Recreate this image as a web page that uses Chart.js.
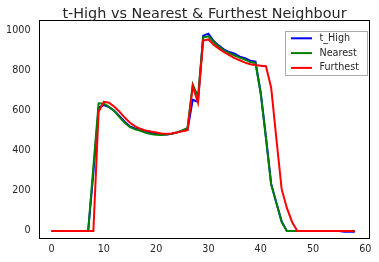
<!DOCTYPE html>
<html>
<head>
<meta charset="utf-8">
<script src="https://cdn.jsdelivr.net/npm/chart.js@4/dist/chart.umd.min.js"></script>
<style>
  html, body { margin: 0; padding: 0; background: #fff; }
  #wrap { width: 379px; height: 262px; }
</style>
</head>
<body>
<div id="wrap"><canvas id="neighbourChart"></canvas></div>
<script>
const chartTitle = 't-High vs Nearest & Furthest Neighbour'

const steps = [0, 1, 2, 3, 4, 5, 6, 7, 8, 9, 10, 11, 12, 13, 14, 15, 16, 17, 18, 19,
    20, 21, 22, 23, 24, 25, 26, 27, 28, 29, 30, 31, 32, 33, 34, 35, 36, 37, 38, 39,
    40, 41, 42, 43, 44, 45, 46, 47, 48, 49, 50, 51, 52, 53, 54, 55, 56, 57, 58]

const tHigh = [0, 0, 0, 0, 0, 0, 0, 0, 290, 615, 628, 618, 600, 573, 545, 522, 512, 503, 495, 490,
    486, 482, 482, 485, 492, 500, 505, 655, 645, 975, 985, 948, 925, 905, 893, 885, 870, 862, 850, 845,
    690, 470, 235, 140, 48, 0, 0, 0, 0, 0, 0, 0, 0, 0, 0, 0, -4, -4, -4]

const nearest = [0, 0, 0, 0, 0, 0, 0, 0, 320, 637, 635, 620, 598, 568, 540, 518, 508, 500, 490, 484,
    480, 479, 481, 485, 492, 502, 515, 732, 670, 965, 972, 943, 920, 900, 888, 876, 865, 855, 843, 838,
    685, 462, 232, 140, 45, 0, 0, 0, 0, 0, 0, 0, 0, 0, 0, 0, 0, 0, 0]

const furthest = [0, 0, 0, 0, 0, 0, 0, 0, 0, 595, 645, 640, 620, 595, 566, 540, 522, 510, 501, 496,
    492, 487, 485, 487, 492, 498, 503, 722, 640, 950, 956, 930, 910, 893, 878, 863, 852, 840, 832, 828,
    825, 822, 715, 460, 210, 115, 45, 0, 0, 0, 0, 0, 0, 0, 0, 0, 0, 0, 0]

const xTicks = [0, 10, 20, 30, 40, 50, 60]
const yTicks = [0, 200, 400, 600, 800, 1000]

const fontFamily = '"DejaVu Sans", sans-serif'
const inkColor = '#262626'

const toPoints = values => steps.map((x, i) => ({ x, y: values[i] }))

// frame on all four sides, like the matplotlib axes box
const framePlugin = {
    id: 'frame',
    afterDatasetsDraw(chart) {
        const { ctx, chartArea: a } = chart
        ctx.save()
        ctx.strokeStyle = '#000'
        ctx.lineWidth = 1
        ctx.strokeRect(Math.round(a.left) + 0.5, Math.round(a.top) + 0.5,
            Math.round(a.right - a.left) - 1, Math.round(a.bottom - a.top) - 1)
        ctx.restore()
    }
}

// title centred over the plot area (not the whole canvas)
const axesTitlePlugin = {
    id: 'axesTitle',
    afterDraw(chart) {
        const { ctx, chartArea: a } = chart
        ctx.save()
        ctx.font = '14.4px ' + fontFamily
        ctx.fillStyle = inkColor
        ctx.textAlign = 'center'
        ctx.textBaseline = 'alphabetic'
        ctx.fillText(chartTitle, (a.left + a.right) / 2, 18)
        ctx.restore()
    }
}

// legend box in the upper right corner of the plot
const boxLegendPlugin = {
    id: 'boxLegend',
    afterDraw(chart) {
        const { ctx, chartArea: a } = chart
        const sets = chart.data.datasets
        const w = 82, rowH = 14.8, h = 44
        const x0 = a.right - 3 - w, y0 = a.top + 10.5
        ctx.save()
        ctx.fillStyle = '#fff'
        ctx.strokeStyle = '#aaa'
        ctx.lineWidth = 1
        ctx.fillRect(x0, y0, w, h)
        ctx.strokeRect(Math.round(x0) + 0.5, Math.round(y0) + 0.5, w, h)
        ctx.font = '9.6px ' + fontFamily
        ctx.textBaseline = 'middle'
        ctx.fillStyle = inkColor
        sets.forEach((ds, i) => {
            const y = y0 + 7.8 + i * rowH
            ctx.strokeStyle = ds.borderColor
            ctx.lineWidth = 2
            ctx.beginPath()
            ctx.moveTo(x0 + 6, y)
            ctx.lineTo(x0 + 27, y)
            ctx.stroke()
            ctx.fillText(ds.label, x0 + 34.5, y)
        })
        ctx.restore()
    }
}

const renderChart = () => {

    const data = {
        datasets: [{
            label: 't_High',
            data: toPoints(tHigh),
            borderColor: '#0000ff',
            order: 2
        }, {
            label: 'Nearest',
            data: toPoints(nearest),
            borderColor: '#008000',
            order: 1
        }, {
            label: 'Furthest',
            data: toPoints(furthest),
            borderColor: '#ff0000',
            order: 0
        }]
    }

    const options = {
        responsive: true,
        maintainAspectRatio: false,
        animation: false,
        events: [],
        layout: { padding: { right: 9, left: 0, bottom: 0, top: 20 } },
        elements: {
            line: { borderWidth: 2, tension: 0, fill: false },
            point: { radius: 0 }
        },
        plugins: {
            legend: { display: false },
            tooltip: { enabled: false },
            title: { display: false }
        },
        scales: {
            x: {
                type: 'linear',
                min: -2.4,
                max: 60.9,
                grid: { display: false, drawTicks: false },
                border: { display: false },
                afterBuildTicks: axis => { axis.ticks = xTicks.map(value => ({ value })) },
                afterFit: axis => { axis.height = 23 },
                ticks: {
                    color: inkColor,
                    padding: 5,
                    maxRotation: 0,
                    callback: value => String(value),
                    font: { family: fontFamily, size: 9.6 }
                }
            },
            y: {
                type: 'linear',
                min: -40,
                max: 1053,
                grid: { display: false, drawTicks: false },
                border: { display: false },
                afterBuildTicks: axis => { axis.ticks = yTicks.map(value => ({ value })) },
                afterFit: axis => { axis.width = 39 },
                ticks: {
                    color: inkColor,
                    padding: 8.5,
                    callback: value => String(value),
                    font: { family: fontFamily, size: 9.6 }
                }
            }
        }
    }

    new Chart('neighbourChart', {
        type: 'line',
        data,
        options,
        plugins: [framePlugin, axesTitlePlugin, boxLegendPlugin]
    })
}

renderChart()
</script>
</body>
</html>
